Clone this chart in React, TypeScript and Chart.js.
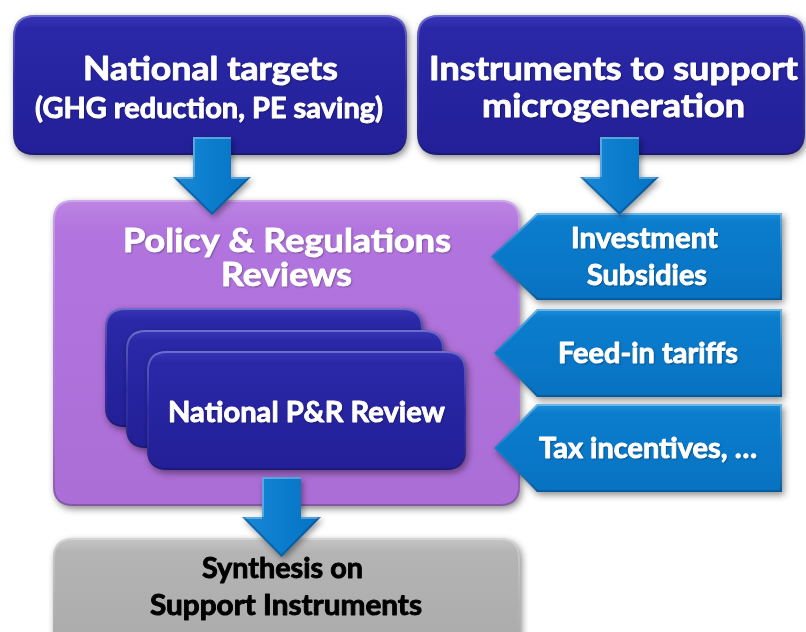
import React, { useEffect, useRef } from "react";
import { Chart, registerables } from "chart.js";
Chart.register(...registerables);

// ---- Diagram data (coordinates in a 806 x 632 value space) ----
const boxNames = ["targets", "instruments", "policy", "synthesis", "review1", "review2", "review3"];
const boxKinds = ["navy", "navy", "purple", "grey", "navy", "navy", "navy"];
const boxLeft = [13, 417, 53, 53, 105, 126, 147];
const boxRight = [407, 805, 520, 520, 423, 444, 466];
const boxTop = [15, 15, 200, 538, 308, 330, 351];
const boxBottom = [155, 155, 506, 680, 427, 448, 470];
const boxRadius = [22, 22, 20, 20, 20, 20, 20];

const pentTip = [491, 494, 494];
const pentBodyLeft = [537, 537, 537];
const pentRight = [782, 782, 782];
const pentTop = [213, 309, 404];
const pentBottom = [300, 397, 492];

const downShaftLeft = [193, 600, 262];
const downShaftRight = [231, 639, 301];
const downTop = [137, 137, 477];
const downHeadLeft = [173, 580, 242];
const downHeadRight = [251, 659, 321];
const downHeadTop = [177, 177, 517];
const downTip = [215, 215, 557];

const textLines = [
  "National targets",
  "(GHG reduction, PE saving)",
  "Instruments to support",
  "microgeneration",
  "Policy & Regulations",
  "Reviews",
  "National P&R Review",
  "Synthesis on",
  "Support Instruments",
  "Investment",
  "Subsidies",
  "Feed-in tariffs",
  "Tax incentives, …",
];
const textCenterX = [210.5, 209, 613.5, 613.5, 287, 286.5, 306.5, 282.5, 286, 644.5, 647, 648, 648];
const textBaseY = [80, 118, 80, 117, 252, 286, 422, 578, 615, 248, 285, 363, 458];
const textWidth = [255, 348, 369, 263, 328, 131, 277, 161, 272, 147, 120, 180, 218];
const textSize = [33, 28, 33, 33, 33, 33, 29, 28, 28, 28, 28, 28, 28];
const textDark = [false, false, false, false, false, false, false, true, true, false, false, false, false];

const FONT = "Lato, 'Open Sans', 'DejaVu Sans', sans-serif";

const palette: Record<string, string[]> = {
  navy: ["#3836b8", "#2a28a7", "#231f98"],
  purple: ["#bd85e3", "#b274de", "#ab6dd6"],
  grey: ["#c6c6c6", "#b4b4b4", "#a8a8a8"],
};

function rrPath(ctx: CanvasRenderingContext2D, x0: number, y0: number, x1: number, y1: number, r: number) {
  ctx.beginPath();
  ctx.moveTo(x0 + r, y0);
  ctx.lineTo(x1 - r, y0);
  ctx.quadraticCurveTo(x1, y0, x1, y0 + r);
  ctx.lineTo(x1, y1 - r);
  ctx.quadraticCurveTo(x1, y1, x1 - r, y1);
  ctx.lineTo(x0 + r, y1);
  ctx.quadraticCurveTo(x0, y1, x0, y1 - r);
  ctx.lineTo(x0, y0 + r);
  ctx.quadraticCurveTo(x0, y0, x0 + r, y0);
  ctx.closePath();
}

function polyPath(ctx: CanvasRenderingContext2D, pts: number[][]) {
  ctx.beginPath();
  pts.forEach((p, i) => (i === 0 ? ctx.moveTo(p[0], p[1]) : ctx.lineTo(p[0], p[1])));
  ctx.closePath();
}

function fillWithBevel(
  ctx: CanvasRenderingContext2D,
  makePath: () => void,
  y0: number,
  y1: number,
  cols: string[],
  bevel = 0.28
) {
  ctx.save();
  ctx.shadowColor = "rgba(0,0,0,0.45)";
  ctx.shadowBlur = 7;
  ctx.shadowOffsetX = 2;
  ctx.shadowOffsetY = 3;
  const g = ctx.createLinearGradient(0, y0, 0, y1);
  g.addColorStop(0, cols[0]);
  g.addColorStop(0.1, cols[1]);
  g.addColorStop(1, cols[2]);
  makePath();
  ctx.fillStyle = g;
  ctx.fill();
  ctx.restore();
  ctx.save();
  makePath();
  ctx.clip();
  const b = ctx.createLinearGradient(0, y0, 0, y1);
  b.addColorStop(0, `rgba(255,255,255,${bevel})`);
  b.addColorStop(0.5, "rgba(255,255,255,0.04)");
  b.addColorStop(1, "rgba(0,0,0,0.22)");
  ctx.strokeStyle = b;
  ctx.lineWidth = 4;
  makePath();
  ctx.stroke();
  ctx.restore();
}

const blueCols = ["#1f8fdb", "#0b7dcd", "#0872c2"];

const diagramPlugin = {
  id: "diagram",
  afterDatasetsDraw(chart: any) {
    const ctx: CanvasRenderingContext2D = chart.ctx;
    const sx = chart.scales.x;
    const sy = chart.scales.y;
    const X = (v: number) => sx.getPixelForValue(v);
    const Y = (v: number) => sy.getPixelForValue(v);

    const drawBox = (i: number) => {
      const x0 = X(boxLeft[i]), x1 = X(boxRight[i]);
      const y0 = Y(boxTop[i]), y1 = Y(boxBottom[i]);
      fillWithBevel(ctx, () => rrPath(ctx, x0, y0, x1, y1, boxRadius[i]), y0, y1, palette[boxKinds[i]]);
    };

    [0, 1, 2, 3].forEach(drawBox);

    for (let i = 0; i < pentTip.length; i++) {
      const t = X(pentTip[i]), bl = X(pentBodyLeft[i]), r = X(pentRight[i]);
      const y0 = Y(pentTop[i]), y1 = Y(pentBottom[i]);
      const ym = (y0 + y1) / 2;
      fillWithBevel(ctx, () => polyPath(ctx, [[t, ym], [bl, y0], [r, y0], [r, y1], [bl, y1]]), y0, y1, blueCols, 0.35);
    }

    [4, 5, 6].forEach(drawBox);

    for (let i = 0; i < downTop.length; i++) {
      const sl = X(downShaftLeft[i]), sr = X(downShaftRight[i]);
      const hl = X(downHeadLeft[i]), hr = X(downHeadRight[i]);
      const cx = (hl + hr) / 2;
      const y0 = Y(downTop[i]), yh = Y(downHeadTop[i]), yt = Y(downTip[i]);
      const pts = [[sl, y0], [sr, y0], [sr, yh], [hr, yh], [cx, yt], [hl, yh], [sl, yh]];
      ctx.save();
      ctx.shadowColor = "rgba(0,0,0,0.4)";
      ctx.shadowBlur = 6;
      ctx.shadowOffsetX = 2;
      ctx.shadowOffsetY = 3;
      const g = ctx.createLinearGradient(hl, 0, hr, 0);
      g.addColorStop(0, "#1a88d6");
      g.addColorStop(0.5, "#0b7dcd");
      g.addColorStop(1, "#0772c3");
      polyPath(ctx, pts);
      ctx.fillStyle = g;
      ctx.fill();
      ctx.restore();
      ctx.save();
      polyPath(ctx, pts);
      ctx.clip();
      ctx.strokeStyle = "rgba(255,255,255,0.3)";
      ctx.lineWidth = 4;
      ctx.beginPath();
      ctx.moveTo(sl, yh);
      ctx.lineTo(sl, y0);
      ctx.lineTo(sr, y0);
      ctx.moveTo(hl, yh);
      ctx.lineTo(sl, yh);
      ctx.moveTo(sr, yh);
      ctx.lineTo(hr, yh);
      ctx.stroke();
      ctx.strokeStyle = "rgba(0,40,90,0.3)";
      ctx.beginPath();
      ctx.moveTo(hr, yh);
      ctx.lineTo(cx, yt);
      ctx.lineTo(hl, yh);
      ctx.stroke();
      ctx.restore();
    }

    for (let i = 0; i < textLines.length; i++) {
      ctx.save();
      ctx.font = `bold ${textSize[i]}px ${FONT}`;
      ctx.textAlign = "center";
      ctx.textBaseline = "alphabetic";
      const w = ctx.measureText(textLines[i]).width;
      const k = textWidth[i] / w;
      ctx.translate(X(textCenterX[i]), Y(textBaseY[i]));
      ctx.scale(k, 1);
      const col = textDark[i] ? "#000000" : "#ffffff";
      ctx.fillStyle = col;
      ctx.strokeStyle = col;
      ctx.lineWidth = 0.9;
      ctx.lineJoin = "round";
      if (!textDark[i]) {
        ctx.shadowColor = "rgba(0,0,0,0.45)";
        ctx.shadowBlur = 2;
        ctx.shadowOffsetX = 1;
        ctx.shadowOffsetY = 1;
      }
      ctx.fillText(textLines[i], 0, 0);
      ctx.shadowColor = "rgba(0,0,0,0)";
      ctx.strokeText(textLines[i], 0, 0);
      ctx.restore();
    }
  },
};

export default function App() {
  const ref = useRef<HTMLCanvasElement | null>(null);
  useEffect(() => {
    document.body.style.margin = "0";
    if (!ref.current) return;
    const chart = new Chart(ref.current, {
      type: "scatter",
      data: {
        datasets: [
          {
            label: boxNames.join(","),
            data: boxLeft.map((v, i) => ({ x: v, y: boxTop[i] })),
            pointRadius: 0,
            showLine: false,
          },
        ],
      },
      options: {
        responsive: false,
        animation: false,
        devicePixelRatio: 1,
        layout: { padding: 0 },
        plugins: { legend: { display: false }, tooltip: { enabled: false } },
        scales: {
          x: { type: "linear", min: 0, max: 806, display: false },
          y: { type: "linear", min: 0, max: 632, reverse: true, display: false },
        },
      },
      plugins: [diagramPlugin],
    });
    return () => chart.destroy();
  }, []);
  return (
    <div style={{ position: "absolute", left: 0, top: 0, width: 806, height: 632, background: "#fff" }}>
      <canvas ref={ref} width={806} height={632} />
    </div>
  );
}
